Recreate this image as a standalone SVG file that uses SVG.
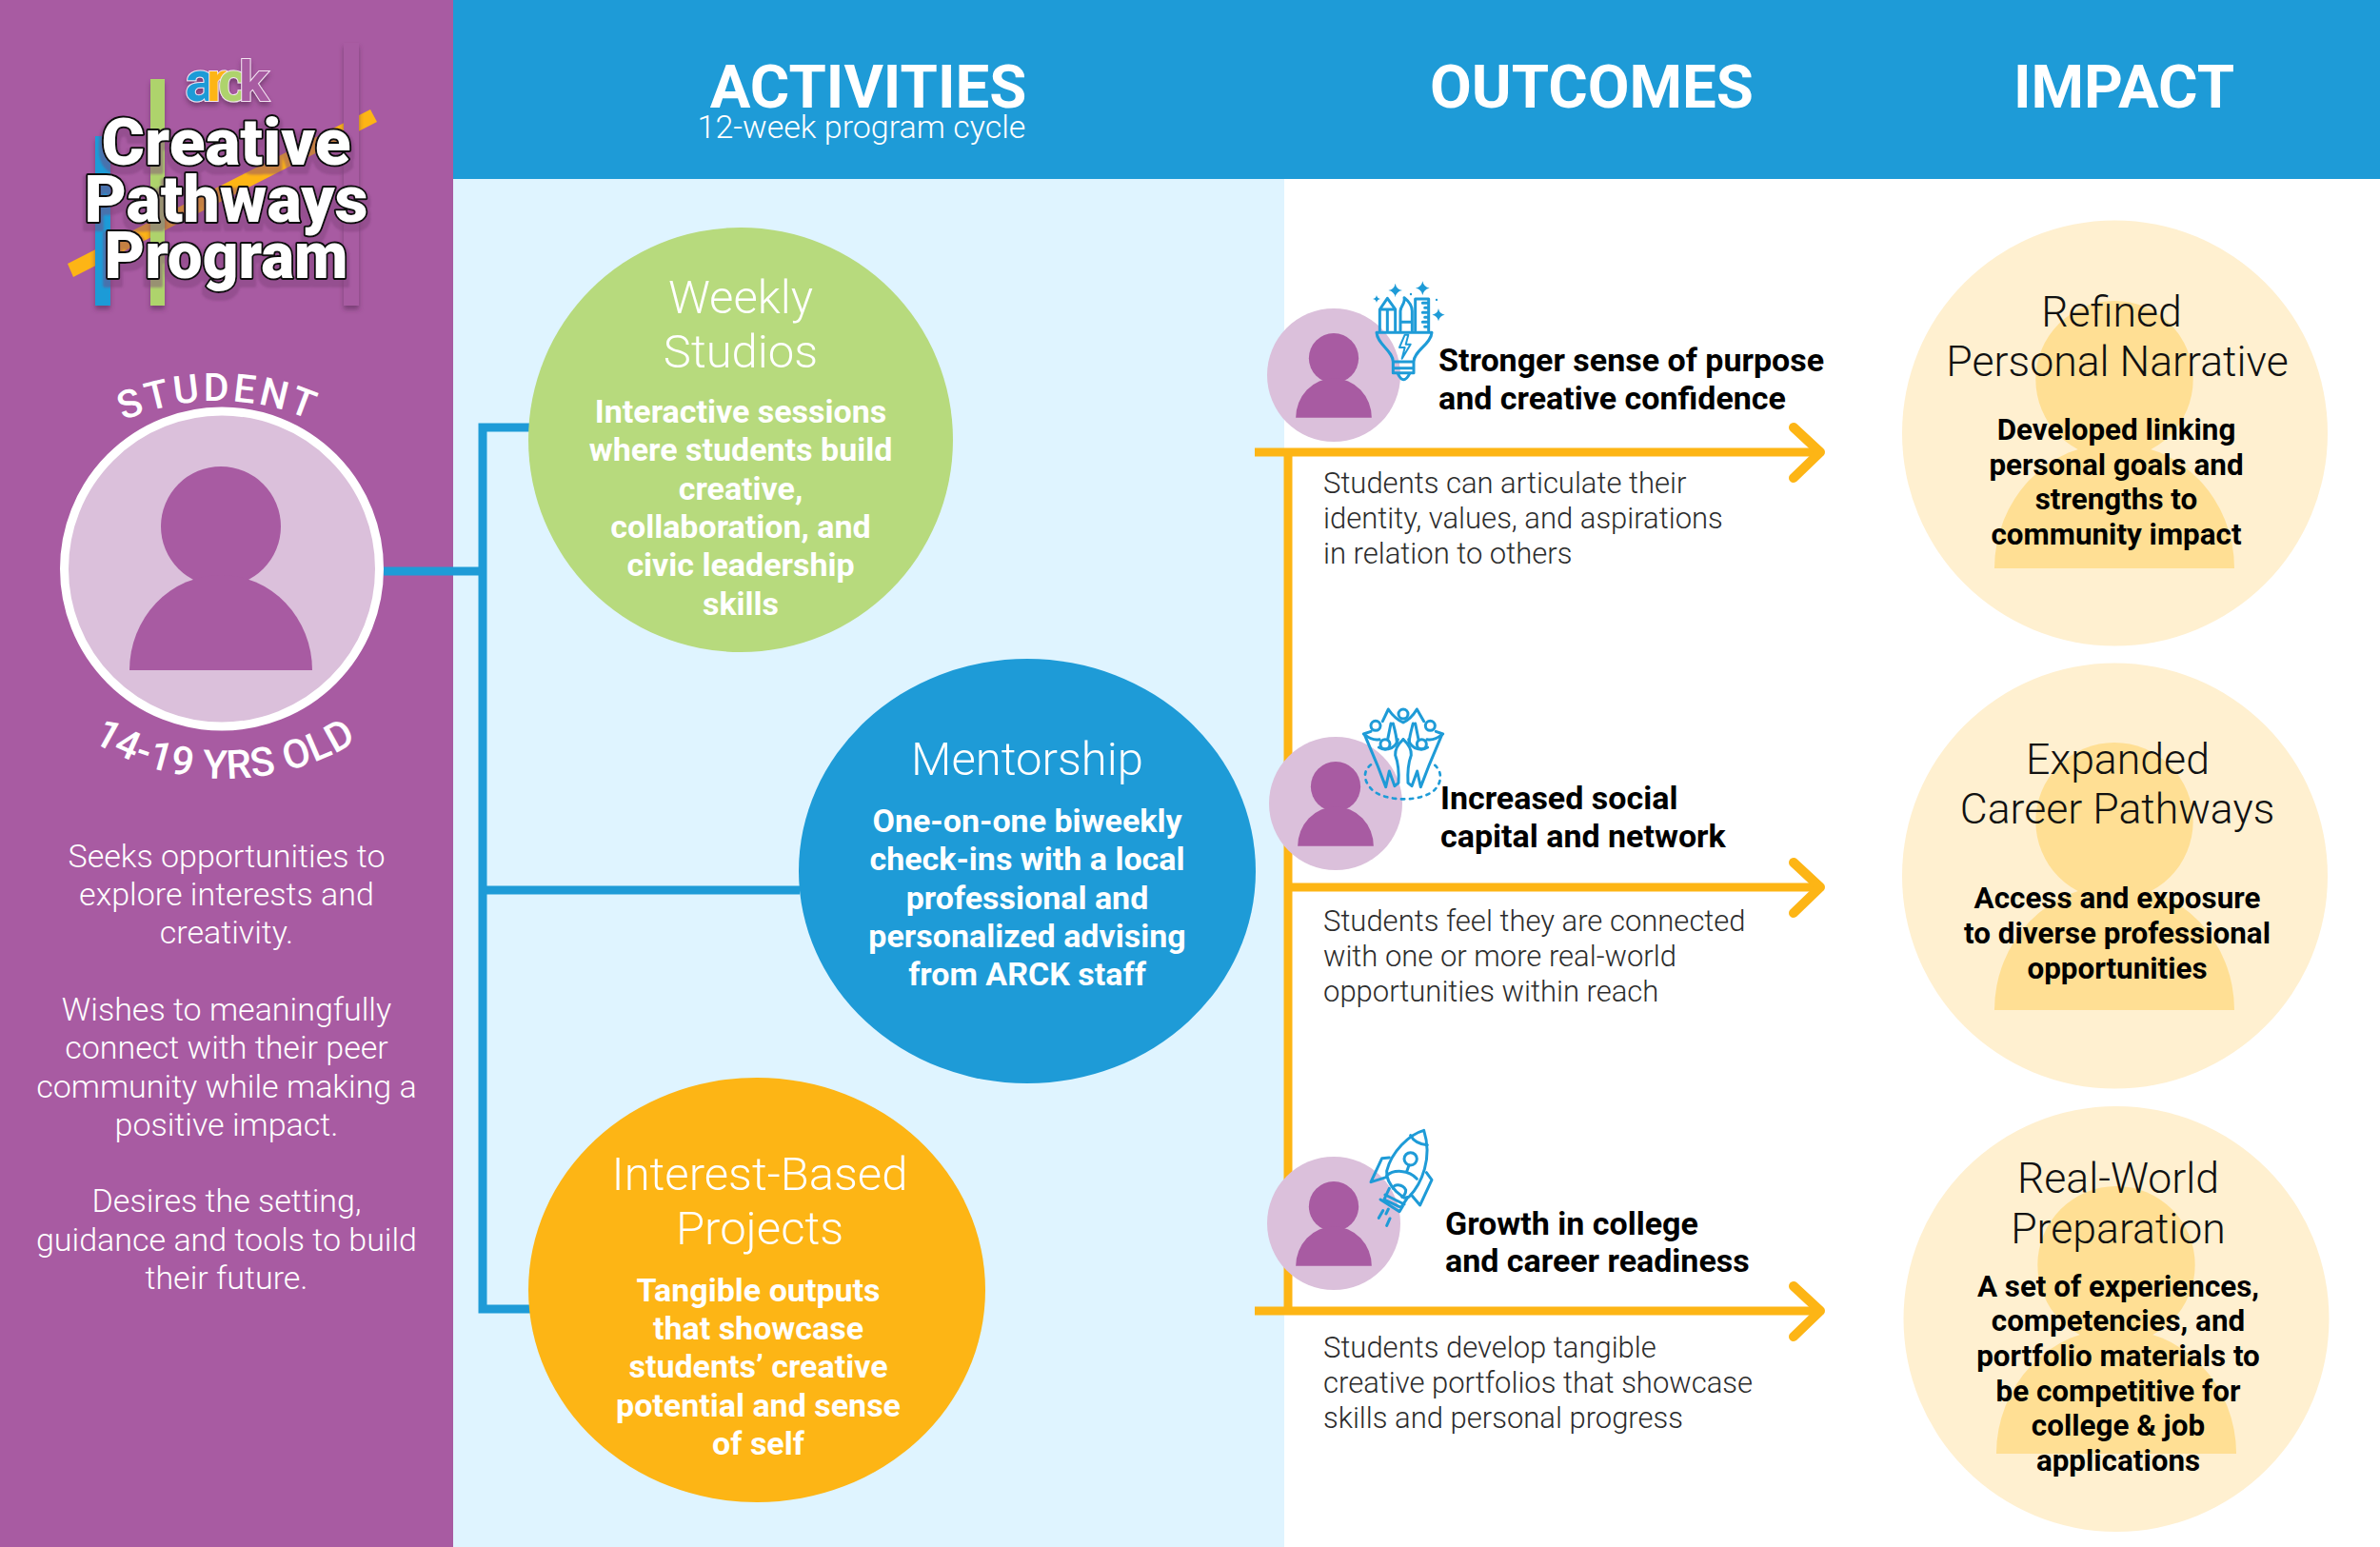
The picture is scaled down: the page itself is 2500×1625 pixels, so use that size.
<svg xmlns="http://www.w3.org/2000/svg" width="2500" height="1625" viewBox="0 0 2500 1625">
<style>
text{font-family:Roboto,"Liberation Sans",sans-serif}
.hd{font-size:63.500px;font-weight:700;fill:#fff;text-anchor:middle}
.sub{font-size:34px;font-weight:300;fill:#fff;text-anchor:middle}
.side{font-size:34px;font-weight:300;fill:#fff;text-anchor:middle}
.ct{font-size:49px;font-weight:300;fill:#fff;text-anchor:middle}
.cb{font-size:34px;font-weight:700;fill:#fff;text-anchor:middle}
.ot{font-size:34px;font-weight:700;fill:#000}
.od{font-size:31px;font-weight:300;fill:#2c2c2c}
.it{font-size:44.600px;font-weight:300;fill:#111;text-anchor:middle}
.ib{font-size:31.400px;font-weight:700;fill:#000;text-anchor:middle}
.logo{font-size:69px;font-weight:900;fill:#fff;stroke:#111;stroke-width:4px;paint-order:stroke;text-anchor:middle;stroke-linejoin:round}
.curve{font-weight:500;fill:#fff;text-anchor:middle}
.blue{stroke:#1e9bd7;stroke-width:9;fill:none}
.org{stroke:#fdb515;stroke-width:9;fill:none}
.head{stroke:#fdb515;stroke-width:10;fill:none;stroke-linecap:round;stroke-linejoin:round}
.ic{stroke:#1e9bd7;stroke-width:9;fill:none;stroke-linejoin:round;stroke-linecap:round}
.icf{fill:#1e9bd7}
.pl{fill:#dbc0db}
.pd{fill:#a85ba2}
.il{fill:#fff0d0}
.id{fill:#ffdf94}
</style>
<defs>
<g id="person"><circle cx="0" cy="63" r="63"/><path d="M-96 214A96 100 0 0 1 96 214Z"/></g>
<path id="star" d="M0-1Q.15-.15 1 0Q.15.15 0 1Q-.15.15-1 0Q-.15-.15 0-1Z"/>
<filter id="sh" x="-20%" y="-20%" width="140%" height="140%"><feDropShadow dx="0" dy="4" stdDeviation="2.500" flood-color="#5a2a58" flood-opacity=".6"/></filter>
<filter id="halo" x="-15%" y="-15%" width="130%" height="140%">
<feMorphology in="SourceAlpha" operator="dilate" radius="3" result="d"/>
<feOffset in="d" dy="5" result="o"/>
<feGaussianBlur in="o" stdDeviation="1" result="b"/>
<feFlood flood-color="#7e3f7a" flood-opacity=".45"/>
<feComposite in2="b" operator="in" result="s"/>
<feMerge><feMergeNode in="s"/><feMergeNode in="SourceGraphic"/></feMerge>
</filter>
<path id="arcTop" d="M-16 666A245 245 0 0 1 474 666"/>
<path id="arcBot" d="M-28 554A264 264 0 0 0 500 554"/>
</defs>
<rect width="2500" height="1625" fill="#fff"/>
<rect x="476" y="188" width="873" height="1437" fill="#dff4ff"/>
<rect x="476" width="2024" height="188" fill="#1e9bd7"/>
<rect width="476" height="1625" fill="#a85ba2"/>

<g id="logo">
<polygon points="71,277 389,115 396,128 77,291" fill="#fdb515"/>
<g filter="url(#sh)">
<rect x="100" y="143" width="16" height="178" fill="#1e9bd7"/>
<rect x="158" y="83" width="15" height="238" fill="#aed36c"/>
<rect x="361" y="45" width="16" height="276" fill="#a85ba2"/>
</g>
<text x="234" y="106" font-size="59" font-weight="700" letter-spacing="-9" stroke="#f4e4f2" stroke-width="2" paint-order="stroke" filter="url(#sh)" text-anchor="middle"><tspan fill="#1e9bd7">a</tspan><tspan fill="#fdb515">r</tspan><tspan fill="#aed36c">c</tspan><tspan fill="#a85ba2">k</tspan></text>
<g filter="url(#halo)">
<text class="logo" x="237.500" y="173" textLength="262" lengthAdjust="spacingAndGlyphs">Creative</text>
<text class="logo" x="237.500" y="233" textLength="298" lengthAdjust="spacingAndGlyphs">Pathways</text>
<text class="logo" x="237.500" y="292" textLength="256" lengthAdjust="spacingAndGlyphs">Program</text>
</g>
</g>

<g id="connectors">
<path class="blue" d="M403 600H507M560 449H507V1375H560M507 935H840"/>
<path class="org" d="M1353 475V1377M1318 475H1908M1353 932H1908M1318 1377H1908"/>
<path class="head" d="M1884 449L1912 475L1884 502"/>
<path class="head" d="M1884 906L1912 932L1884 959"/>
<path class="head" d="M1884 1351L1912 1377L1884 1404"/>
</g>

<g id="student">
<circle cx="233" cy="597.500" r="165.500" class="pl" stroke="#fff" stroke-width="9"/>
<use href="#person" x="232" y="490" class="pd"/>
<text class="curve" font-size="41" letter-spacing="3.500"><textPath href="#arcTop" startOffset="50%">STUDENT</textPath></text>
<text class="curve" font-size="42" letter-spacing=".5"><textPath href="#arcBot" startOffset="50%">14-19 YRS OLD</textPath></text>
<text class="side"><tspan x="238" y="911">Seeks opportunities to</tspan><tspan x="238" y="951">explore interests and</tspan><tspan x="238" y="991">creativity.</tspan><tspan x="238" y="1072">Wishes to meaningfully</tspan><tspan x="238" y="1112">connect with their peer</tspan><tspan x="238" y="1153">community while making a</tspan><tspan x="238" y="1193">positive impact.</tspan><tspan x="238" y="1273">Desires the setting,</tspan><tspan x="238" y="1314">guidance and tools to build</tspan><tspan x="238" y="1354">their future.</tspan></text>
</g>

<g id="headers">
<text class="hd" x="912" y="113">ACTIVITIES</text>
<text class="sub" x="905" y="145">12-week program cycle</text>
<text class="hd" x="1672" y="113">OUTCOMES</text>
<text class="hd" x="2231" y="113">IMPACT</text>
</g>

<g id="weekly">
<circle cx="778" cy="462" r="223" fill="#b7da7d"/>
<text class="ct"><tspan x="778" y="329">Weekly</tspan><tspan x="778" y="386">Studios</tspan></text>
<text class="cb"><tspan x="778" y="444">Interactive sessions</tspan><tspan x="778" y="484">where students build</tspan><tspan x="778" y="525">creative,</tspan><tspan x="778" y="565">collaboration, and</tspan><tspan x="778" y="605">civic leadership</tspan><tspan x="778" y="646">skills</tspan></text>
</g>
<g id="mentorship">
<ellipse cx="1079" cy="915" rx="240" ry="223" fill="#1e9bd7"/>
<text class="ct" x="1079" y="814">Mentorship</text>
<text class="cb"><tspan x="1079" y="874">One-on-one biweekly</tspan><tspan x="1079" y="914">check-ins with a local</tspan><tspan x="1079" y="955">professional and</tspan><tspan x="1079" y="995">personalized advising</tspan><tspan x="1079" y="1035">from ARCK staff</tspan></text>
</g>
<g id="projects">
<ellipse cx="795" cy="1355" rx="240" ry="223" fill="#fdb515"/>
<text class="ct"><tspan x="798" y="1250">Interest-Based</tspan><tspan x="798" y="1307">Projects</tspan></text>
<text class="cb"><tspan x="796.500" y="1367">Tangible outputs</tspan><tspan x="796.500" y="1407">that showcase</tspan><tspan x="796.500" y="1447">students’ creative</tspan><tspan x="796.500" y="1488">potential and sense</tspan><tspan x="796.500" y="1528">of self</tspan></text>
</g>

<g id="outcome-1">
<circle cx="1401" cy="394" r="70" class="pl"/>
<use href="#person" transform="translate(1401 350) scale(.415)" class="pd"/>
<g transform="translate(1435 290) scale(.3333)">
<g class="ic">
<path d="M33 178H207M33 178C35 215 85 235 85 270V305H150V270C150 235 205 215 207 178M85 270H150M85 290H150M100 308Q118 345 137 308"/>
<path d="M43 172V105L67 70L92 105V172M43 105H92M67 105V172"/>
<path d="M108 172V110C108 95 125 85 120 68C135 80 145 95 145 110V172M108 145H145"/>
<path d="M155 172V72H197V172M197 85H178M197 100H185M197 115H178M197 130H185M197 145H178M197 160H185"/>
<path stroke-width="6" d="M122 185L105 225H122L113 260L140 215H125L133 185Z"/>
</g>
<g class="icf">
<use href="#star" transform="translate(92 45) scale(22)"/>
<use href="#star" transform="translate(178 38) scale(22)"/>
<use href="#star" transform="translate(228 122) scale(20)"/>
<use href="#star" transform="translate(33 72) scale(12)"/>
<circle cx="141" cy="57" r="3.500"/><circle cx="222" cy="75" r="3.500"/>
</g>
</g>
<text class="ot"><tspan x="1511" y="390">Stronger sense of purpose</tspan><tspan x="1511" y="430">and creative confidence</tspan></text>
<text class="od"><tspan x="1390" y="518">Students can articulate their</tspan><tspan x="1390" y="555">identity, values, and aspirations</tspan><tspan x="1390" y="592">in relation to others</tspan></text>
</g>

<g id="outcome-2">
<circle cx="1403" cy="844" r="70" class="pl"/>
<use href="#person" transform="translate(1403 800) scale(.415)" class="pd"/>
<g transform="translate(1425 735) scale(.3333)" class="ic">
<circle cx="60" cy="82" r="15"/><circle cx="147" cy="45" r="15"/><circle cx="232" cy="82" r="15"/><circle cx="90" cy="140" r="15"/><circle cx="205" cy="140" r="15"/>
<path d="M25 110L65 205L92 275L103 225L120 272L132 262Q135 210 122 175Q120 150 147 125"/>
<path d="M269 110L229 205L202 275L191 225L174 272L162 262Q159 210 172 175Q174 150 147 125"/>
<path d="M25 110Q50 130 72 125M130 125Q125 150 100 155Q85 160 70 150M269 110Q244 130 222 125M164 125Q169 150 194 155Q209 160 224 150"/>
<path d="M100 30L82 68M45 100L22 108M100 30Q120 60 147 72Q172 60 190 30M190 30L212 68M250 100L272 108"/>
<path d="M108 75L98 125M115 75Q125 110 127 135M178 75Q168 110 165 135M185 75L195 125"/>
<path stroke-width="8" stroke-dasharray="10 17" d="M45 205C20 225 20 255 50 285C90 320 200 325 245 285C270 260 270 225 245 205"/>
</g>
<text class="ot"><tspan x="1513" y="850">Increased social</tspan><tspan x="1513" y="890">capital and network</tspan></text>
<text class="od"><tspan x="1390" y="978">Students feel they are connected</tspan><tspan x="1390" y="1015">with one or more real-world</tspan><tspan x="1390" y="1052">opportunities within reach</tspan></text>
</g>

<g id="outcome-3">
<circle cx="1401" cy="1285" r="70" class="pl"/>
<use href="#person" transform="translate(1401 1241) scale(.415)" class="pd"/>
<g transform="translate(1430 1180) scale(.3333)" class="ic">
<path d="M197 22C150 35 95 90 80 150C78 175 90 195 110 215L135 235L150 232C190 190 225 110 197 22Z"/>
<path d="M155 38Q170 65 208 68"/>
<circle cx="155" cy="112" r="20"/>
<path d="M150 132L143 152M80 165C100 145 150 145 175 175M100 205C100 190 130 190 140 210Q140 225 128 232"/>
<path d="M88 108L65 110L30 185L78 170M205 155L222 178L185 258L157 225"/>
<path d="M88 205L72 240L125 265L145 235M75 225L135 255M60 240L120 278L130 262"/>
<path d="M68 275L55 298M90 300L80 322M85 270L78 285"/>
</g>
<text class="ot"><tspan x="1518" y="1297">Growth in college</tspan><tspan x="1518" y="1336">and career readiness</tspan></text>
<text class="od"><tspan x="1390" y="1426">Students develop tangible</tspan><tspan x="1390" y="1463">creative portfolios that showcase</tspan><tspan x="1390" y="1500">skills and personal progress</tspan></text>
</g>

<g id="impact-1">
<circle cx="2221.500" cy="455" r="223.500" class="il"/>
<use href="#person" transform="translate(2221 316) scale(1.3125)" class="id"/>
<text class="it"><tspan x="2218" y="343">Refined</tspan><tspan x="2224" y="395">Personal Narrative</tspan></text>
<text class="ib"><tspan x="2223" y="462">Developed linking</tspan><tspan x="2223" y="499">personal goals and</tspan><tspan x="2223" y="535">strengths to</tspan><tspan x="2223" y="572">community impact</tspan></text>
</g>
<g id="impact-2">
<circle cx="2221.500" cy="920" r="223.500" class="il"/>
<use href="#person" transform="translate(2221 780) scale(1.3125)" class="id"/>
<text class="it"><tspan x="2224.500" y="813">Expanded</tspan><tspan x="2224" y="865">Career Pathways</tspan></text>
<text class="ib"><tspan x="2224" y="954">Access and exposure</tspan><tspan x="2224" y="991">to diverse professional</tspan><tspan x="2224" y="1028">opportunities</tspan></text>
</g>
<g id="impact-3">
<circle cx="2223" cy="1385.500" r="223.500" class="il"/>
<use href="#person" transform="translate(2223 1246) scale(1.3125)" class="id"/>
<text class="it"><tspan x="2225" y="1253">Real-World</tspan><tspan x="2225" y="1306">Preparation</tspan></text>
<text class="ib"><tspan x="2225" y="1362">A set of experiences,</tspan><tspan x="2225" y="1398">competencies, and</tspan><tspan x="2225" y="1435">portfolio materials to</tspan><tspan x="2225" y="1472">be competitive for</tspan><tspan x="2225" y="1508">college &amp; job</tspan><tspan x="2225" y="1545">applications</tspan></text>
</g>
</svg>
